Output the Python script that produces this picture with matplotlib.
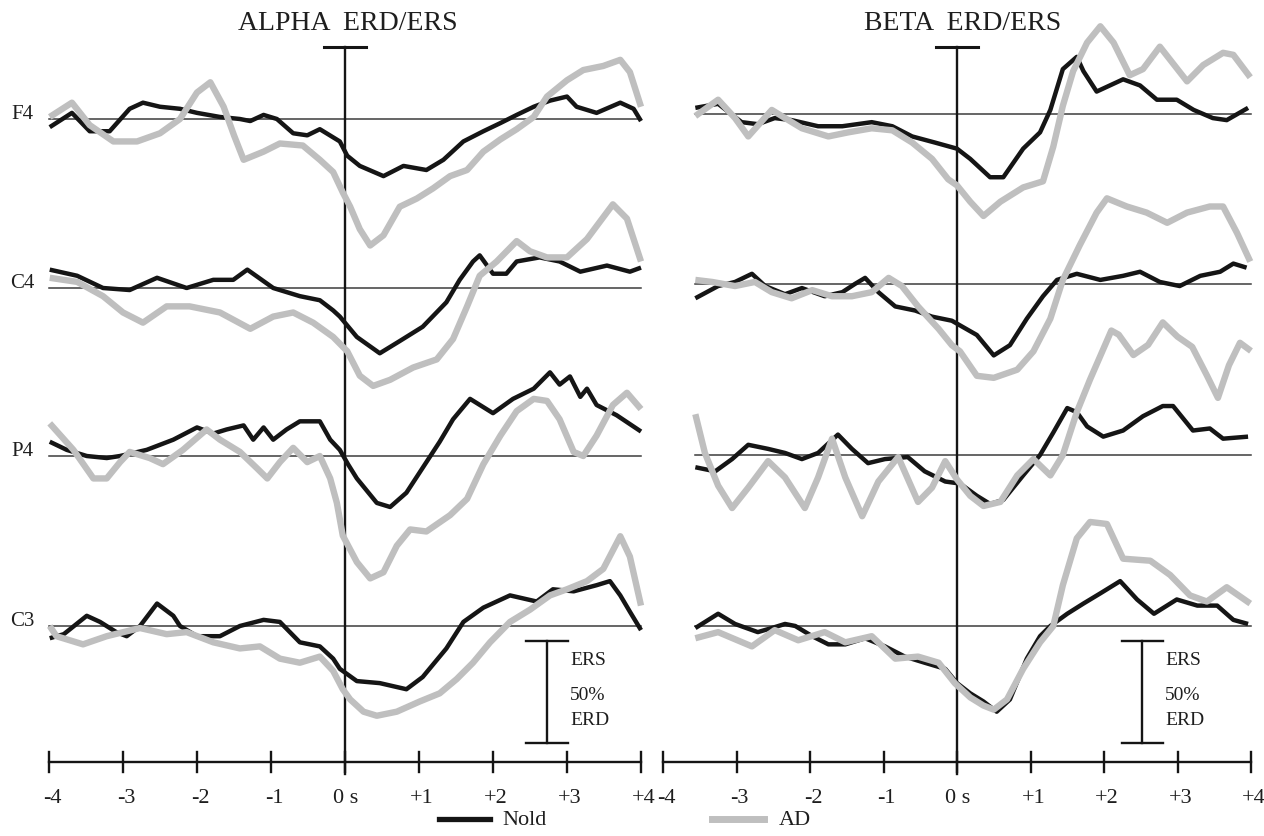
import numpy as np
import matplotlib
matplotlib.use('Agg')
import matplotlib.pyplot as plt

plt.rcParams['font.family'] = ['Liberation Serif', 'DejaVu Serif']

channels = ['F4', 'C4', 'P4', 'C3']
tick_labels = ['-4', '-3', '-2', '-1', '0 s', '+1', '+2', '+3', '+4']

# ---- ALPHA ERD/ERS (% change, + = ERS) ----
a_f4_nold_t = [-3.99, -3.69, -3.45, -3.18, -2.91, -2.73, -2.5, -2.23, -2.0, -1.69, -1.42, -1.28, -1.1, -0.92, -0.7, -0.51, -0.34, -0.16, -0.07, 0.03, 0.2, 0.52, 0.79, 1.1, 1.33, 1.6, 1.87, 2.1, 2.32, 2.55, 2.77, 3.0, 3.13, 3.4, 3.72, 3.9, 4.0]
a_f4_nold = [-4, 3, -6, -6, 5, 8, 6, 5, 3, 1, 0, -1, 2, 0, -7, -8, -5, -9, -11, -18, -23, -28, -23, -25, -20, -11, -6, -2, 2, 6, 9, 11, 6, 3, 8, 5, -1]
a_f4_ad_t = [-3.99, -3.69, -3.45, -3.13, -2.81, -2.5, -2.23, -2.0, -1.82, -1.64, -1.5, -1.37, -1.1, -0.88, -0.57, -0.34, -0.16, -0.03, 0.07, 0.2, 0.34, 0.52, 0.74, 0.97, 1.19, 1.42, 1.65, 1.87, 2.1, 2.32, 2.55, 2.73, 3.0, 3.22, 3.49, 3.72, 3.85, 4.0]
a_f4_ad = [1, 8, -3, -11, -11, -7, 0, 13, 18, 6, -8, -20, -16, -12, -13, -20, -26, -36, -43, -54, -62, -57, -43, -39, -34, -28, -25, -16, -10, -5, 1, 11, 19, 24, 26, 29, 23, 6]

a_c4_nold_t = [-3.99, -3.62, -3.27, -2.91, -2.54, -2.14, -1.78, -1.51, -1.32, -0.97, -0.61, -0.34, -0.16, -0.07, 0.16, 0.47, 0.74, 1.05, 1.37, 1.55, 1.73, 1.82, 2.0, 2.18, 2.32, 2.63, 2.9, 3.18, 3.54, 3.85, 4.0]
a_c4_nold = [9, 6, 0, -1, 5, 0, 4, 4, 9, 0, -4, -6, -11, -14, -24, -32, -26, -19, -7, 4, 13, 16, 7, 7, 13, 15, 13, 8, 11, 8, 10]
a_c4_ad_t = [-3.99, -3.62, -3.27, -3.0, -2.73, -2.41, -2.1, -1.69, -1.28, -0.97, -0.7, -0.43, -0.16, 0.03, 0.2, 0.38, 0.61, 0.92, 1.24, 1.46, 1.65, 1.82, 2.05, 2.32, 2.5, 2.73, 3.0, 3.27, 3.62, 3.81, 4.0]
a_c4_ad = [5, 3, -4, -12, -17, -9, -9, -12, -20, -14, -12, -17, -24, -31, -43, -48, -45, -39, -35, -25, -9, 6, 13, 23, 18, 15, 15, 24, 41, 34, 13]

a_p4_nold_t = [-3.99, -3.76, -3.49, -3.22, -3.04, -2.68, -2.32, -2.0, -1.78, -1.6, -1.37, -1.24, -1.1, -0.97, -0.79, -0.61, -0.34, -0.2, -0.07, 0.04, 0.16, 0.43, 0.61, 0.83, 1.1, 1.28, 1.46, 1.69, 2.0, 2.27, 2.55, 2.77, 2.9, 3.04, 3.18, 3.27, 3.4, 3.67, 4.0]
a_p4_nold = [7, 3, 0, -1, 0, 3, 8, 14, 11, 13, 15, 8, 14, 8, 13, 17, 17, 8, 3, -4, -11, -23, -25, -18, -3, 7, 18, 28, 21, 28, 33, 41, 35, 39, 29, 33, 25, 20, 12]
a_p4_ad_t = [-3.99, -3.67, -3.4, -3.22, -3.04, -2.91, -2.64, -2.46, -2.19, -1.87, -1.69, -1.42, -1.19, -1.05, -0.88, -0.7, -0.51, -0.34, -0.2, -0.11, -0.03, 0.16, 0.34, 0.52, 0.7, 0.88, 1.1, 1.42, 1.65, 1.87, 2.1, 2.32, 2.55, 2.73, 2.9, 3.09, 3.22, 3.4, 3.62, 3.81, 4.0]
a_p4_ad = [16, 3, -11, -11, -3, 2, -1, -4, 3, 13, 8, 2, -6, -11, -3, 4, -3, 0, -11, -23, -39, -52, -60, -57, -44, -36, -37, -29, -21, -4, 10, 22, 28, 27, 18, 2, 0, 10, 25, 31, 23]

a_c3_nold_t = [-3.99, -3.8, -3.49, -3.31, -3.09, -2.95, -2.77, -2.54, -2.32, -2.23, -2.0, -1.69, -1.42, -1.1, -0.88, -0.61, -0.34, -0.16, -0.07, 0.16, 0.47, 0.83, 1.05, 1.37, 1.6, 1.87, 2.23, 2.59, 2.81, 3.09, 3.4, 3.58, 3.72, 3.85, 4.0]
a_c3_nold = [-6, -4, 5, 2, -3, -5, 0, 11, 5, 0, -5, -5, 0, 3, 2, -8, -10, -16, -21, -27, -28, -31, -25, -11, 2, 9, 15, 12, 18, 17, 20, 22, 15, 7, -2]
a_c3_ad_t = [-3.99, -3.9, -3.54, -3.22, -2.77, -2.41, -2.14, -1.78, -1.42, -1.15, -0.88, -0.61, -0.34, -0.16, -0.03, 0.07, 0.25, 0.43, 0.7, 1.01, 1.28, 1.51, 1.73, 1.96, 2.23, 2.5, 2.77, 3.0, 3.27, 3.49, 3.72, 3.85, 4.0]
a_c3_ad = [0, -5, -9, -5, -1, -4, -3, -8, -11, -10, -16, -18, -15, -22, -31, -36, -42, -44, -42, -37, -33, -26, -18, -8, 2, 8, 15, 18, 22, 28, 44, 34, 10]

# ---- BETA ERD/ERS ----
b_f4_nold_t = [-3.56, -3.25, -2.93, -2.71, -2.48, -2.25, -1.89, -1.56, -1.16, -0.88, -0.61, -0.3, 0.0, 0.18, 0.45, 0.63, 0.9, 1.13, 1.27, 1.44, 1.63, 1.72, 1.9, 2.26, 2.49, 2.72, 2.99, 3.22, 3.48, 3.67, 3.96]
b_f4_nold = [3, 5, -4, -5, -2, -3, -6, -6, -4, -6, -11, -14, -17, -22, -31, -31, -17, -9, 2, 22, 28, 21, 11, 17, 14, 7, 7, 2, -2, -3, 3]
b_f4_ad_t = [-3.56, -3.25, -3.02, -2.84, -2.52, -2.34, -2.11, -1.75, -1.48, -1.16, -0.88, -0.61, -0.34, -0.12, 0.0, 0.18, 0.36, 0.59, 0.9, 1.17, 1.31, 1.44, 1.58, 1.77, 1.95, 2.13, 2.35, 2.53, 2.76, 3.13, 3.35, 3.62, 3.76, 3.99]
b_f4_ad = [-1, 7, -2, -11, 2, -2, -7, -11, -9, -7, -8, -14, -22, -32, -35, -43, -50, -43, -36, -33, -16, 4, 21, 35, 43, 35, 19, 22, 33, 16, 24, 30, 29, 18]

b_c4_nold_t = [-3.56, -3.25, -3.02, -2.79, -2.61, -2.34, -2.11, -1.8, -1.56, -1.39, -1.25, -1.07, -0.84, -0.57, -0.34, -0.07, 0.27, 0.5, 0.72, 0.95, 1.17, 1.36, 1.63, 1.95, 2.26, 2.49, 2.76, 3.03, 3.31, 3.58, 3.76, 3.94]
b_c4_nold = [-7, -1, 1, 5, -1, -5, -2, -6, -4, 0, 3, -4, -11, -13, -16, -18, -25, -35, -30, -17, -6, 2, 5, 2, 4, 6, 1, -1, 4, 6, 10, 8]
b_c4_ad_t = [-3.56, -3.33, -3.02, -2.75, -2.52, -2.25, -1.97, -1.7, -1.43, -1.16, -0.93, -0.75, -0.53, -0.25, -0.07, 0.04, 0.27, 0.5, 0.82, 1.04, 1.27, 1.44, 1.67, 1.9, 2.04, 2.31, 2.58, 2.86, 3.13, 3.44, 3.62, 3.81, 3.99]
b_c4_ad = [2, 1, -1, 1, -4, -7, -3, -6, -6, -4, 3, -1, -11, -22, -30, -33, -45, -46, -42, -33, -17, 2, 19, 35, 42, 38, 35, 30, 35, 38, 38, 25, 11]

b_p4_nold_t = [-3.56, -3.29, -3.06, -2.84, -2.57, -2.34, -2.11, -1.89, -1.62, -1.43, -1.21, -0.98, -0.67, -0.44, -0.16, 0.04, 0.27, 0.45, 0.63, 0.9, 1.13, 1.31, 1.5, 1.63, 1.77, 1.99, 2.26, 2.53, 2.8, 2.94, 3.21, 3.44, 3.62, 3.96]
b_p4_nold = [-6, -8, -2, 5, 3, 1, -2, 1, 10, 3, -4, -2, -1, -8, -13, -14, -20, -24, -22, -10, 0, 11, 23, 21, 14, 9, 12, 19, 24, 24, 12, 13, 8, 9]
b_p4_ad_t = [-3.56, -3.43, -3.25, -3.06, -2.84, -2.57, -2.34, -2.07, -1.89, -1.7, -1.52, -1.29, -1.07, -0.8, -0.53, -0.34, -0.16, 0.0, 0.18, 0.36, 0.59, 0.82, 1.04, 1.27, 1.44, 1.63, 1.81, 2.1, 2.2, 2.4, 2.6, 2.8, 3.0, 3.2, 3.4, 3.55, 3.7, 3.85, 4.0]
b_p4_ad = [20, 1, -15, -26, -16, -3, -11, -26, -11, 8, -11, -30, -13, -1, -23, -16, -3, -12, -20, -25, -23, -10, -2, -10, 0, 21, 37, 61, 59, 49, 54, 65, 58, 53, 39, 28, 44, 55, 51]

b_c3_nold_t = [-3.56, -3.25, -3.02, -2.71, -2.52, -2.34, -2.2, -1.97, -1.75, -1.52, -1.25, -0.98, -0.71, -0.44, -0.16, 0.0, 0.18, 0.36, 0.54, 0.72, 0.95, 1.13, 1.27, 1.5, 1.72, 1.95, 2.22, 2.45, 2.68, 2.99, 3.27, 3.54, 3.76, 3.96]
b_c3_nold = [-1, 6, 1, -3, -1, 1, 0, -5, -9, -9, -6, -10, -15, -18, -21, -28, -33, -37, -42, -36, -16, -5, 0, 6, 11, 16, 22, 13, 6, 13, 10, 10, 3, 1]
b_c3_ad_t = [-3.56, -3.25, -2.79, -2.48, -2.16, -1.8, -1.52, -1.16, -0.84, -0.53, -0.25, -0.03, 0.18, 0.36, 0.5, 0.68, 0.9, 1.13, 1.31, 1.44, 1.63, 1.81, 2.04, 2.26, 2.63, 2.9, 3.17, 3.4, 3.67, 3.99]
b_c3_ad = [-6, -3, -10, -2, -7, -3, -8, -5, -16, -15, -18, -28, -35, -39, -41, -36, -21, -8, 0, 20, 43, 51, 50, 33, 32, 25, 15, 12, 19, 11]

alpha_nold = [(a_f4_nold_t, a_f4_nold), (a_c4_nold_t, a_c4_nold), (a_p4_nold_t, a_p4_nold), (a_c3_nold_t, a_c3_nold)]
alpha_ad = [(a_f4_ad_t, a_f4_ad), (a_c4_ad_t, a_c4_ad), (a_p4_ad_t, a_p4_ad), (a_c3_ad_t, a_c3_ad)]
beta_nold = [(b_f4_nold_t, b_f4_nold), (b_c4_nold_t, b_c4_nold), (b_p4_nold_t, b_p4_nold), (b_c3_nold_t, b_c3_nold)]
beta_ad = [(b_f4_ad_t, b_f4_ad), (b_c4_ad_t, b_c4_ad), (b_p4_ad_t, b_p4_ad), (b_c3_ad_t, b_c3_ad)]

W, H = 1264, 837
PX_PER_PCT = 102 / 50.0
BLACK = '#151515'
GREY = '#bfbfbf'
TXT = '#1e1e1e'


def Y(ypx):
    # pixel row -> percent coordinate
    return -ypx / PX_PER_PCT


fig = plt.figure(figsize=(W / 100, H / 100), dpi=100)
fig.patch.set_facecolor('white')

panels = [
    dict(name='ALPHA  ERD/ERS', x_lo=0, x_hi=650, zero=345, sec=74.0,
         bases=[120, 289, 457, 627], nold=alpha_nold, ad=alpha_ad,
         base_start=-4.0, labels=True, title_x=0.04, bar=2.73),
    dict(name='BETA  ERD/ERS', x_lo=650, x_hi=1264, zero=957, sec=73.5,
         bases=[115, 285, 456, 627], nold=beta_nold, ad=beta_ad,
         base_start=-3.56, labels=False, title_x=0.07, bar=2.52),
]

axes = []
for p in panels:
    ax = fig.add_axes([p['x_lo'] / W, 0, (p['x_hi'] - p['x_lo']) / W, 1])
    ax.set_xlim((p['x_lo'] - p['zero']) / p['sec'], (p['x_hi'] - p['zero']) / p['sec'])
    ax.set_ylim(Y(H), Y(0))
    ax.axis('off')
    axes.append(ax)

    for i, b in enumerate(p['bases']):
        yb = Y(b)
        ax.plot([p['base_start'], 4.0], [yb, yb], color='#3c3c3c', lw=1.1, zorder=1)
        t, v = p['nold'][i]
        ax.plot(t, yb + np.array(v), color=BLACK, lw=3.2, zorder=3,
                solid_joinstyle='round', solid_capstyle='butt')
        t, v = p['ad'][i]
        ax.plot(t, yb + np.array(v), color=GREY, lw=4.6, zorder=4,
                solid_joinstyle='round', solid_capstyle='butt')
        if p['labels']:
            ax.text((22 - p['zero']) / p['sec'], yb + 2.5, channels[i], fontsize=15,
                    ha='center', va='center', color=TXT)

    # onset marker
    ax.plot([0, 0], [Y(48), Y(775)], color=BLACK, lw=1.7, zorder=2)
    ax.plot([-0.28, 0.29], [Y(48), Y(48)], color=BLACK, lw=2.2, zorder=2)
    ax.text(p['title_x'], Y(23), p['name'], fontsize=20, ha='center', va='center',
            color=TXT)

    # time axis
    ax.plot([-4, 4], [Y(763), Y(763)], color=BLACK, lw=1.7, zorder=2)
    for k, lab in enumerate(tick_labels):
        tk = k - 4
        ax.plot([tk, tk], [Y(753), Y(773)], color=BLACK, lw=1.7, zorder=2)
        if lab == '0 s':
            ax.text(tk - 0.16, Y(799), lab, fontsize=16, ha='left', va='center',
                    color=TXT)
        else:
            ax.text(tk + 0.04, Y(799), lab, fontsize=16, ha='center', va='center',
                    color=TXT)

    # 50% scale bar
    bx = p['bar']
    ax.plot([bx, bx], [Y(642), Y(744)], color=BLACK, lw=1.7)
    for yy in (642, 744):
        ax.plot([bx - 0.28, bx + 0.28], [Y(yy), Y(yy)], color=BLACK, lw=1.7)
    for txt, yy in (('ERS', 661), ('50%', 696), ('ERD', 721)):
        ax.text(bx + 0.31, Y(yy), txt, fontsize=14, ha='left', va='center',
                color=TXT)

# legend
axl, axr = axes
axl.plot([1.27, 1.96], [Y(820), Y(820)], color=BLACK, lw=3.8)
axl.text(2.12, Y(821), 'Nold', fontsize=16, ha='left', va='center', color=TXT)
axr.plot([-3.33, -2.63], [Y(820), Y(820)], color=GREY, lw=5)
axr.text(-2.42, Y(821), 'AD', fontsize=16, ha='left', va='center', color=TXT)

fig.savefig('out.png', dpi=100, facecolor='white')
